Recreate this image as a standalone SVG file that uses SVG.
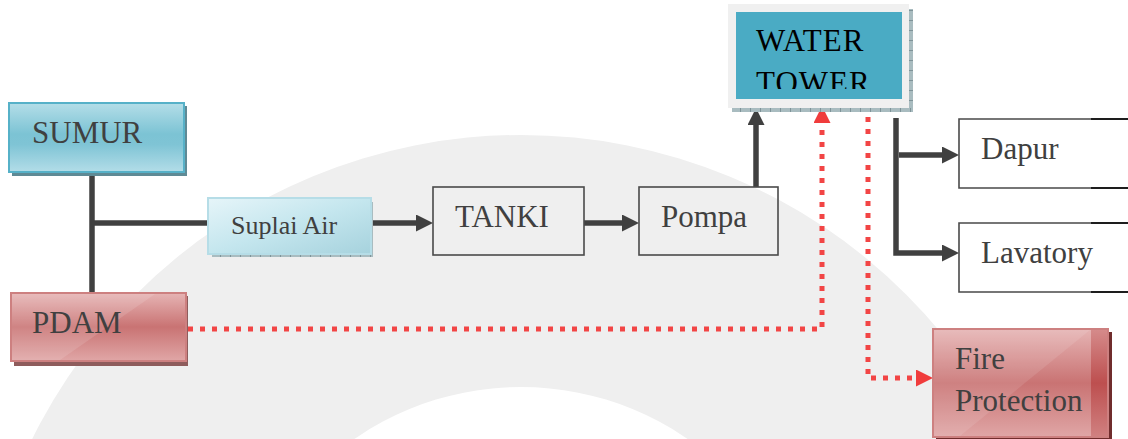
<svg xmlns="http://www.w3.org/2000/svg" width="1128" height="439" viewBox="0 0 1128 439">
  <style>
    .lbl { font-family: "Liberation Serif", "Times New Roman", serif; fill: #404040; }
    .big { font-size: 31px; }
    .mid { font-size: 26px; }
    .wt { font-family: "Liberation Serif", "Times New Roman", serif; font-size: 31px; fill: #000; letter-spacing: 1px; }
    .plain { fill: none; stroke: #4a4a4a; stroke-width: 1.6; }
    .conn { fill: none; stroke: #404040; stroke-width: 5.5; }
    .dot { fill: none; stroke: #f24545; stroke-width: 5; stroke-dasharray: 5 7; }
  </style>
  <defs>
    <linearGradient id="blueG" x1="0" y1="0" x2="0" y2="1">
      <stop offset="0" stop-color="#b4dee8"/>
      <stop offset="0.45" stop-color="#7cc3d4"/>
      <stop offset="0.6" stop-color="#7fc4d5"/>
      <stop offset="1" stop-color="#b3dde8"/>
    </linearGradient>
    <linearGradient id="redG" x1="0" y1="0" x2="0" y2="1">
      <stop offset="0" stop-color="#e6b4b4"/>
      <stop offset="0.5" stop-color="#c97373"/>
      <stop offset="1" stop-color="#e0a6a6"/>
    </linearGradient>
    <linearGradient id="suplaiG" x1="0" y1="0" x2="1" y2="1">
      <stop offset="0" stop-color="#e6f5f9"/>
      <stop offset="0.5" stop-color="#c4e6ee"/>
      <stop offset="1" stop-color="#a6d2dd"/>
    </linearGradient>
    <linearGradient id="bandG" x1="0" y1="0" x2="0" y2="1">
      <stop offset="0" stop-color="#d58a8a"/>
      <stop offset="0.5" stop-color="#bd4f4f"/>
      <stop offset="1" stop-color="#d08080"/>
    </linearGradient>
    <pattern id="hatch" width="10" height="6" patternUnits="userSpaceOnUse">
      <rect width="10" height="6" fill="#a9bcc0"/>
      <line x1="0.5" y1="0" x2="0.5" y2="6" stroke="#7f9499" stroke-width="1"/>
    </pattern>
    <pattern id="hatchV" width="6" height="10" patternUnits="userSpaceOnUse">
      <rect width="6" height="10" fill="#a9bcc0"/>
      <line x1="0" y1="0.5" x2="6" y2="0.5" stroke="#7f9499" stroke-width="1"/>
    </pattern>
    <clipPath id="towerClip">
      <rect x="736" y="12" width="166" height="77"/>
    </clipPath>
    <marker id="arrDark" markerUnits="userSpaceOnUse" markerWidth="18" markerHeight="18" refX="11" refY="8.5" orient="auto">
      <path d="M0,0 L17,8.5 L0,17 z" fill="#404040"/>
    </marker>
    <marker id="arrRed" markerUnits="userSpaceOnUse" markerWidth="18" markerHeight="18" refX="11" refY="8.5" orient="auto">
      <path d="M0,0 L17,8.5 L0,17 z" fill="#f03c3c"/>
    </marker>
  </defs>

  <rect width="1128" height="439" fill="#ffffff"/>
  <!-- faint background watermark ring -->
  <path d="M -24,680 a 545,545 0 1,0 1090,0 a 545,545 0 1,0 -1090,0 z M 228,680 a 293,293 0 1,0 586,0 a 293,293 0 1,0 -586,0 z" fill="#efefef" fill-rule="evenodd"/>

  <g id="connectors">
    <path class="conn" d="M92,172 V293"/>
    <path class="conn" d="M92,223 H208"/>
    <path class="conn" d="M371,223 H427" marker-end="url(#arrDark)"/>
    <path class="conn" d="M584,223 H633" marker-end="url(#arrDark)"/>
    <path class="conn" d="M756,187 V114" marker-end="url(#arrDark)"/>
    <path class="conn" d="M896,118 V253 H953" marker-end="url(#arrDark)"/>
    <path class="conn" d="M899,155 H953" marker-end="url(#arrDark)"/>
    <path class="dot" d="M188,329 H822 V121"/>
    <path d="M822,115 V112" stroke="none" fill="none" marker-end="url(#arrRed)"/>
    <path class="dot" d="M868,105 V378 H916"/>
    <path d="M924,378 H927" stroke="none" fill="none" marker-end="url(#arrRed)"/>
  </g>

  <g id="sumur">
    <rect x="12" y="106" width="175" height="70" fill="#5f8a95"/>
    <rect x="9" y="103" width="175" height="69" fill="url(#blueG)" stroke="#56b1c8" stroke-width="2"/>
    <text class="lbl big" x="32" y="143">SUMUR</text>
  </g>

  <g id="pdam">
    <rect x="14" y="296" width="174" height="70" fill="#8e5c5c"/>
    <rect x="11" y="293" width="175" height="68" fill="url(#redG)" stroke="#cd8080" stroke-width="2"/>
    <path d="M12,294 H155 L60,360 H12 z" fill="#ffffff" opacity="0.12"/>
    <text class="lbl big" x="32" y="333">PDAM</text>
  </g>

  <g id="suplai-air">
    <rect x="212" y="202" width="161" height="55" fill="url(#hatch)"/>
    <rect x="208" y="198" width="163" height="56" fill="url(#suplaiG)" stroke="#b6dde7" stroke-width="2"/>
    <text class="lbl mid" x="231" y="234">Suplai Air</text>
  </g>

  <g id="tanki">
    <rect class="plain" x="433" y="187" width="151" height="68"/>
    <text class="lbl big" x="455" y="227">TANKI</text>
  </g>

  <g id="pompa">
    <rect class="plain" x="639" y="187" width="139" height="68"/>
    <text class="lbl big" x="661" y="227">Pompa</text>
  </g>

  <g id="water-tower">
    <rect x="909" y="9" width="4" height="103" fill="url(#hatchV)"/>
    <rect x="732" y="108" width="181" height="4" fill="url(#hatch)"/>
    <rect x="728" y="4" width="181" height="104" fill="#f0f0f0"/>
    <rect x="736" y="12" width="166" height="87" fill="#4aabc4"/>
    <text class="wt" x="756" y="51">WATER</text>
    <text class="wt" x="756" y="93" clip-path="url(#towerClip)">TOWER</text>
  </g>

  <g id="dapur">
    <path class="plain" d="M1128,119 H959 V188 H1128"/>
    <path d="M1091,119 H1128 M1091,188 H1128" stroke="#000" stroke-width="1.6"/>
    <text class="lbl big" x="981" y="159">Dapur</text>
  </g>

  <g id="lavatory">
    <path class="plain" d="M1128,223 H959 V292 H1128"/>
    <path d="M1091,223 H1128 M1091,292 H1128" stroke="#000" stroke-width="1.6"/>
    <text class="lbl big" x="981" y="263">Lavatory</text>
  </g>

  <g id="fire-protection">
    <rect x="936" y="332" width="176" height="107" fill="#702c2c"/>
    <rect x="933" y="329" width="175" height="108" fill="url(#redG)" stroke="#cd8080" stroke-width="2"/>
    <rect x="1091" y="330" width="16" height="106" fill="url(#bandG)"/>
    <path d="M934,330 H1090 L960,436 H934 z" fill="#ffffff" opacity="0.1"/>
    <text class="lbl big" x="955" y="369">Fire</text>
    <text class="lbl big" x="955" y="411">Protection</text>
  </g>
</svg>
